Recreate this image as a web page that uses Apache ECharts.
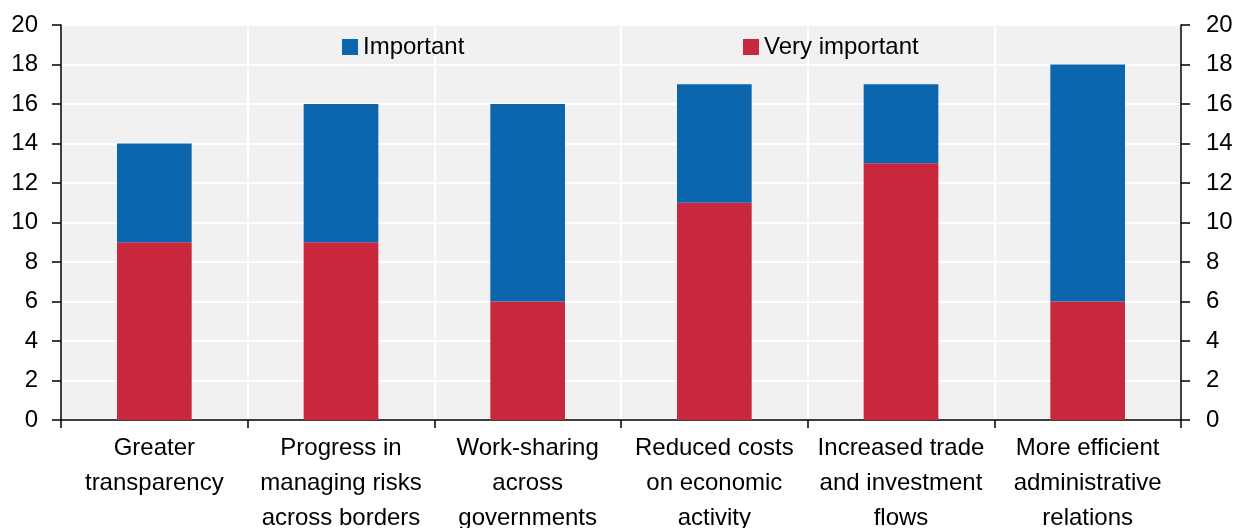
<!DOCTYPE html>
<html><head><meta charset="utf-8">
<script src="https://cdn.jsdelivr.net/npm/echarts@6/dist/echarts.min.js"></script>
<style>html,body{margin:0;padding:0;background:#fff}#c{width:1238px;height:528px}</style>
</head><body><div id="c"></div>
<script>
const categories = ["Greater\ntransparency","Progress in\nmanaging risks\nacross borders","Work-sharing\nacross\ngovernments","Reduced costs\non economic\nactivity","Increased trade\nand investment\nflows","More efficient\nadministrative\nrelations"];
const veryImportant = [9, 9, 6, 11, 13, 6];
const important = [5, 7, 10, 6, 4, 12];
const yTicks = [0, 2, 4, 6, 8, 10, 12, 14, 16, 18, 20];

const FONT = '"Liberation Sans", Arial, sans-serif';
const FS = 24;
const chart = echarts.init(document.getElementById('c'));
const yAxisCommon = {
  type: 'value', min: 0, max: 20, interval: 2,
  axisLine: {show: true, lineStyle: {color: '#000', width: 1.5}},
  axisTick: {show: true, length: 9, inside: false, lineStyle: {color: '#000', width: 1.5}},
  axisLabel: {color: '#000', fontSize: FS, fontFamily: FONT, margin: 23},
  splitLine: {show: false}
};
chart.setOption({
  animation: false,
  textStyle: {fontFamily: FONT},
  grid: {left: 61, right: 57, top: 25, bottom: 108, show: true, backgroundColor: '#f1f1f1', borderWidth: 0,
         outerBoundsMode: 'none', containLabel: false},
  legend: [
    {data: ['Important'], left: 337, top: 30, icon: 'rect', itemWidth: 16, itemHeight: 16, itemGap: 6,
     textStyle: {fontSize: FS, color: '#000', fontFamily: FONT}},
    {data: ['Very important'], left: 738, top: 30, icon: 'rect', itemWidth: 16, itemHeight: 16, itemGap: 6,
     textStyle: {fontSize: FS, color: '#000', fontFamily: FONT}}
  ],
  xAxis: {
    type: 'category', data: categories,
    axisLine: {show: true, lineStyle: {color: '#000', width: 1.5}},
    axisTick: {show: true, length: 8, alignWithLabel: false, lineStyle: {color: '#000', width: 1.5}},
    axisLabel: {color: '#000', fontSize: FS, fontFamily: FONT, lineHeight: 35, margin: 11, interval: 0},
    splitLine: {show: true, lineStyle: {color: '#ffffff', width: 2}}
  },
  yAxis: [
    Object.assign({}, yAxisCommon, {position: 'left', splitLine: {show: true, lineStyle: {color: '#ffffff', width: 2}}}),
    Object.assign({}, yAxisCommon, {position: 'right', axisLabel: {color: '#000', fontSize: FS, fontFamily: FONT, margin: 25}})
  ],
  series: [
    {name: 'Very important', type: 'bar', stack: 'a', data: veryImportant, barWidth: '40%',
     itemStyle: {color: '#c8273e'}},
    {name: 'Important', type: 'bar', stack: 'a', data: important, barWidth: '40%',
     itemStyle: {color: '#0c66ad'}}
  ]
});
</script></body></html>
